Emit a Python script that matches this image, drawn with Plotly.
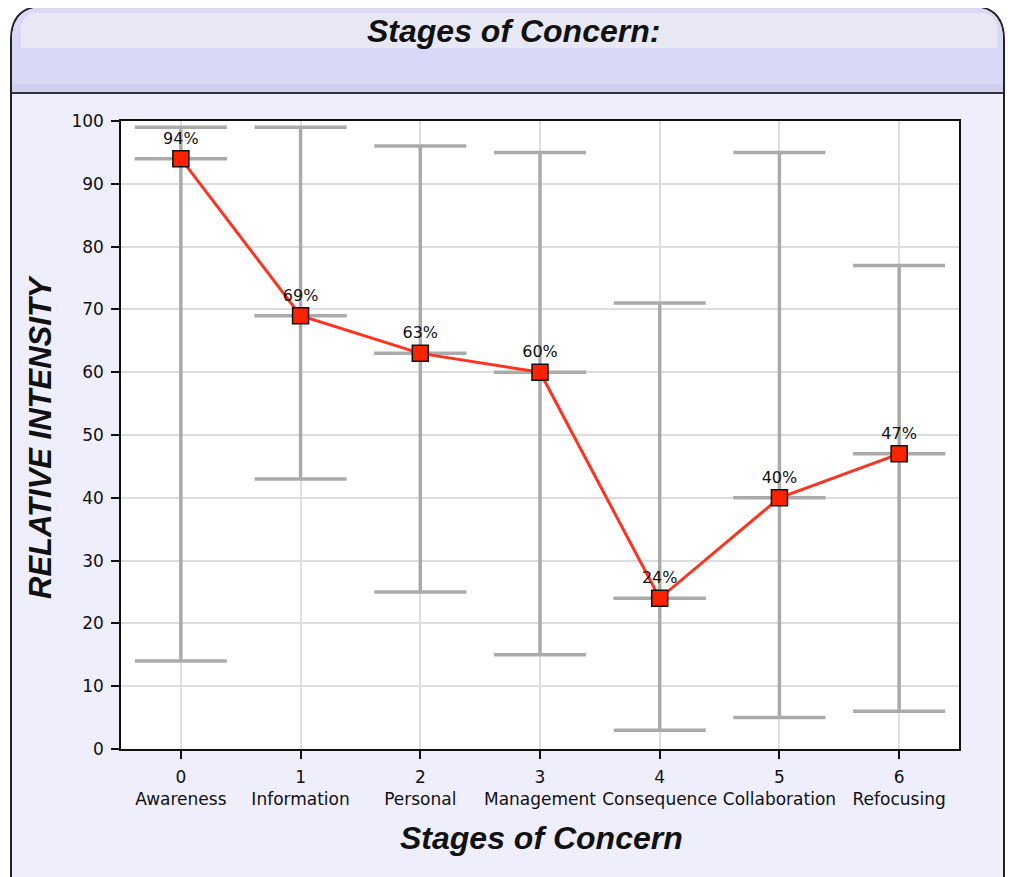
import plotly.graph_objects as go

stages = ["Awareness", "Information", "Personal", "Management", "Consequence", "Collaboration", "Refocusing"]
stage_nums = [0, 1, 2, 3, 4, 5, 6]
intensity = [94, 69, 63, 60, 24, 40, 47]
range_high = [99, 99, 96, 95, 71, 95, 77]
range_low = [14, 43, 25, 15, 3, 5, 6]
y_ticks = [0, 10, 20, 30, 40, 50, 60, 70, 80, 90, 100]

OFF = 8  # page body margin
W, H = 1015 - OFF, 877 - OFF
L, R, T, B = 121 - OFF, 959 - OFF, 121 - OFF, 749 - OFF

def px(x):
    return (x - OFF - L) / (R - L)

def py(y):
    return (B - (y - OFF)) / (B - T)

FONT = "Liberation Sans, Arial, sans-serif"
TFONT = "DejaVu Sans, sans-serif"
GRAY = "#aaaaaa"

fig = go.Figure()

# range bars
fig.add_trace(go.Scatter(
    x=stage_nums, y=intensity, mode="markers",
    marker=dict(size=1, color="rgba(0,0,0,0)"),
    error_y=dict(type="data", symmetric=False,
                 array=[h - v for h, v in zip(range_high, intensity)],
                 arrayminus=[v - l for l, v in zip(range_low, intensity)],
                 color=GRAY, thickness=3.5, width=46),
    hoverinfo="skip", showlegend=False))

# mean tick
fig.add_trace(go.Scatter(
    x=stage_nums, y=intensity, mode="markers",
    marker=dict(symbol="line-ew", size=66, line=dict(color=GRAY, width=3.5)),
    hoverinfo="skip", showlegend=False))

# main line
fig.add_trace(go.Scatter(
    x=stage_nums, y=intensity, mode="lines+markers+text",
    line=dict(color="#ff3322", width=3),
    marker=dict(symbol="square", size=16, color="#ff2200", line=dict(color="#111111", width=1.5)),
    text=[f"{v}%" for v in intensity], textposition="top center",
    textfont=dict(family=TFONT, size=16, color="#111111"),
    showlegend=False))

shapes = []
# panel border
shapes.append(dict(type="path", xref="paper", yref="paper",
    path=f"M {px(11)},{py(885)} L {px(11)},{py(40)} Q {px(11)},{py(6)} {px(45)},{py(6)} "
         f"L {px(970)},{py(6)} Q {px(1004)},{py(6)} {px(1004)},{py(40)} L {px(1004)},{py(885)} Z",
    fillcolor="#eeeefd", line=dict(color="#222222", width=2), layer="below"))
# title bar
shapes.append(dict(type="path", xref="paper", yref="paper",
    path=f"M {px(12)},{py(93)} L {px(12)},{py(40)} Q {px(12)},{py(7)} {px(45)},{py(7)} "
         f"L {px(970)},{py(7)} Q {px(1003)},{py(7)} {px(1003)},{py(40)} L {px(1003)},{py(93)} Z",
    fillcolor="#d9d9f7", line=dict(width=0), layer="below"))
shapes.append(dict(type="path", xref="paper", yref="paper",
    path=f"M {px(21)},{py(48)} L {px(21)},{py(30)} Q {px(21)},{py(13)} {px(38)},{py(13)} "
         f"L {px(980)},{py(13)} Q {px(997)},{py(13)} {px(997)},{py(30)} L {px(997)},{py(48)} Z",
    fillcolor="#e8e8f5", line=dict(width=0), layer="below"))
shapes.append(dict(type="rect", xref="paper", yref="paper",
    x0=px(12), x1=px(1003), y0=py(93), y1=py(84),
    fillcolor="#cfcfee", line=dict(width=0), layer="below"))
shapes.append(dict(type="line", xref="paper", yref="paper",
    x0=px(12), x1=px(1003), y0=py(93), y1=py(93), line=dict(color="#333333", width=2), layer="below"))
# plot background
shapes.append(dict(type="rect", xref="paper", yref="paper", x0=0, x1=1, y0=0, y1=1,
    fillcolor="white", line=dict(width=0), layer="below"))

annotations = [
    dict(text="<b><i>Stages of Concern:</i></b>", xref="paper", yref="paper",
         x=px(513), y=py(31), xanchor="center", yanchor="middle", showarrow=False,
         font=dict(family=FONT, size=32, color="#111111")),
    dict(text="<b><i>Stages of Concern</i></b>", xref="paper", yref="paper",
         x=px(541), y=py(838), xanchor="center", yanchor="middle", showarrow=False,
         font=dict(family=FONT, size=32, color="#111111")),
    dict(text="<b><i>RELATIVE INTENSITY</i></b>", xref="paper", yref="paper",
         x=px(40), y=py(437), xanchor="center", yanchor="middle", showarrow=False, textangle=-90,
         font=dict(family=FONT, size=31, color="#111111")),
]

fig.update_layout(
    width=W, height=H,
    margin=dict(l=L, r=W - R, t=T, b=H - B, pad=0),
    paper_bgcolor="rgba(0,0,0,0)", plot_bgcolor="rgba(0,0,0,0)",
    shapes=shapes, annotations=annotations,
    xaxis=dict(range=[-0.5, 6.5], tickmode="array", tickvals=stage_nums,
               ticktext=[f"{n}<br>{s}" for n, s in zip(stage_nums, stages)],
               ticks="outside", ticklen=8, tickcolor="#111111", tickwidth=1.5,
               showline=True, linecolor="#111111", linewidth=1.5, mirror=True,
               showgrid=True, gridcolor="#dddddd", gridwidth=1.5, zeroline=False,
               ticklabelstandoff=4,
               tickfont=dict(family=TFONT, size=17, color="#111111")),
    yaxis=dict(range=[0, 100], tickmode="array", tickvals=y_ticks,
               ticks="outside", ticklen=8, tickcolor="#111111", tickwidth=1.5,
               showline=True, linecolor="#111111", linewidth=1.5, mirror=True,
               showgrid=True, gridcolor="#dddddd", gridwidth=1.5, zeroline=False,
               ticklabelstandoff=4,
               tickfont=dict(family=TFONT, size=17, color="#111111")),
)

fig.write_html("out.html")
